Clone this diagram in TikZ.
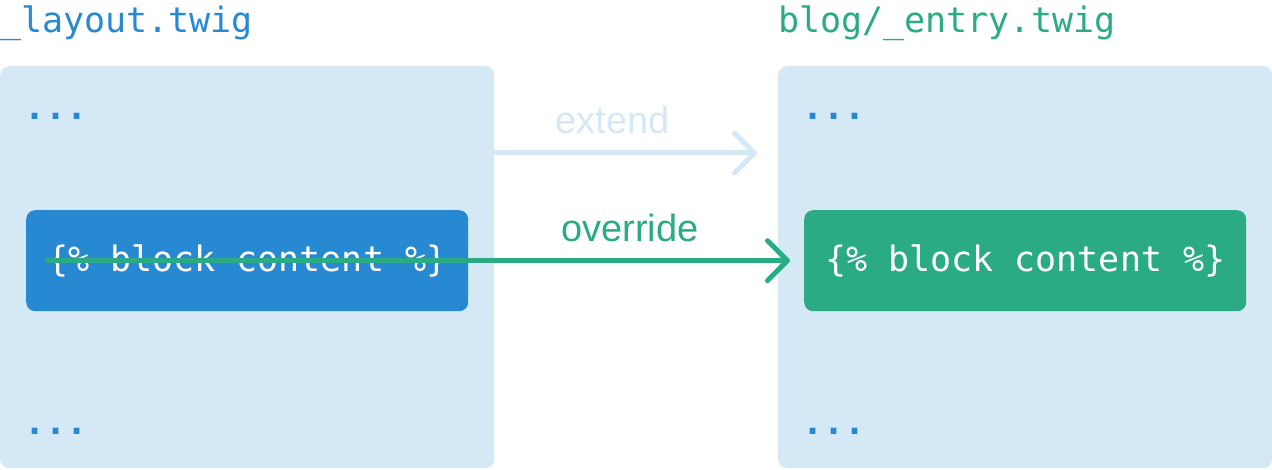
\documentclass[tikz,border=0pt]{standalone}
\usepackage{fontspec}
\setmainfont{Liberation Sans}
\setmonofont{DejaVu Sans Mono}
\usetikzlibrary{arrows.meta}

\definecolor{panelblue}{RGB}{213,232,246}
\definecolor{twigblue}{RGB}{40,137,211}
\definecolor{twiggreen}{RGB}{42,171,132}

\tikzset{
  panel/.style={fill=panelblue, rounded corners=9pt, minimum width=494pt, minimum height=402pt, anchor=north west, inner sep=0},
  codeblock/.style={rounded corners=9pt, minimum width=442pt, minimum height=101pt, anchor=north west, inner sep=0, text=white, font=\ttfamily\fontsize{35}{40}\selectfont},
  filename/.style={anchor=base west, inner sep=0, font=\ttfamily\fontsize{35}{40}\selectfont},
  dots/.style={anchor=base west, inner sep=0, text=twigblue, font=\ttfamily\bfseries\fontsize{35}{40}\selectfont},
  linklabel/.style={anchor=base, inner sep=0, yshift=19pt, font=\fontsize{38}{44}\selectfont},
  barb/.style={-{Straight Barb[length=20pt,width=40pt,round]}, line width=5pt}
}

\begin{document}
\begin{tikzpicture}[x=1pt,y=-1pt]
  \useasboundingbox (0,0) rectangle (1272,470);

  % the two templates
  \node[panel] (layout) at (0,66) {};
  \node[panel] (entry) at (778,66) {};
  \node[filename, text=twigblue] (layoutname) at ([yshift=33pt]layout.north west) {\_layout.twig};
  \node[filename, text=twiggreen] (entryname) at ([yshift=33pt]entry.north west) {blog/\_entry.twig};

  \node[dots] (layouttop) at ([shift={(24,54)}]layout.north west) {...};
  \node[dots] (layoutbottom) at ([shift={(24,-34)}]layout.south west) {...};
  \node[dots] (entrytop) at ([shift={(24,54)}]entry.north west) {...};
  \node[dots] (entrybottom) at ([shift={(24,-34)}]entry.south west) {...};

  % the blocks
  \node[codeblock, fill=twigblue] (blockL) at (26,210) {\{\% block content \%\}};
  \node[codeblock, fill=twiggreen] (blockR) at (804,210) {\{\% block content \%\}};

  \coordinate (extendtip) at (757,153);
  \draw[barb, panelblue] (layout.east |- extendtip) -- (extendtip) node[linklabel, pos=0.45, text=panelblue] {extend};
  \draw[barb, twiggreen] ([xshift=20pt]blockL.west) -- ([xshift=-14pt]blockR.west) node[linklabel, pos=0.785, text=twiggreen] {override};
\end{tikzpicture}
\end{document}
